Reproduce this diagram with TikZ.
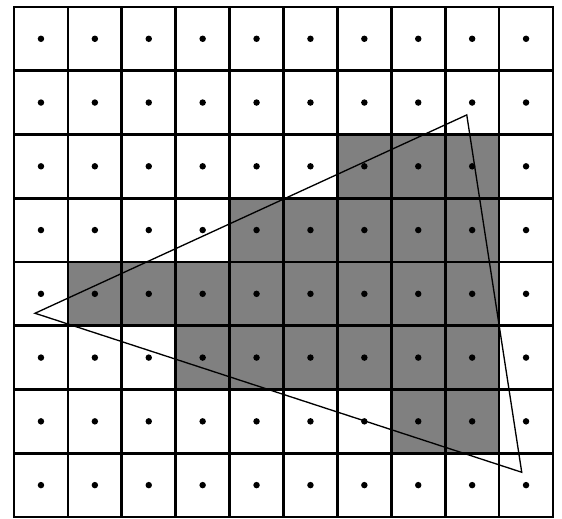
\documentclass[tikz,border=0pt]{standalone}
\usepackage{tikz}

\begin{document}
\begin{tikzpicture}[
  pixel/.style={draw=black, line width=1.4pt},
  shaded/.style={fill=black!50},
  sample/.style={fill=black},
  edge/.style={draw=black, line width=0.7pt, line join=miter}
]

% Parameters
\def\cellW{1.00}   % cell width
\def\cellH{1.183}  % cell height

\useasboundingbox (-0.26,-0.02) rectangle (10.167,9.592);

% ==========================================================
% Covered pixels
% ==========================================================
\foreach \x/\y in {
  6/5,7/5,8/5,
  4/4,5/4,6/4,7/4,8/4,
  1/3,2/3,3/3,4/3,5/3,6/3,7/3,8/3,
  3/2,4/2,5/2,6/2,7/2,8/2,
  7/1,8/1
}{
  \fill[shaded] (\x*\cellW,\y*\cellH) rectangle ++(\cellW,\cellH);
}

% ==========================================================
% Pixel grid 10x8
% ==========================================================
\foreach \x in {0,...,9}{
  \foreach \y in {0,...,7}{
    \draw[pixel] (\x*\cellW,\y*\cellH) rectangle ++(\cellW,\cellH);
    \fill[sample] (\x*\cellW+0.5*\cellW,\y*\cellH+0.5*\cellH) circle (0.06);
  }
}

% ==========================================================
% Triangle
% ==========================================================
\coordinate (top)    at (8.40,7.46);
\coordinate (left)   at (0.39,3.78);
\coordinate (bottom) at (9.42,0.83);

\draw[edge] (top) -- (left) -- (bottom) -- cycle;

\end{tikzpicture}
\end{document}
